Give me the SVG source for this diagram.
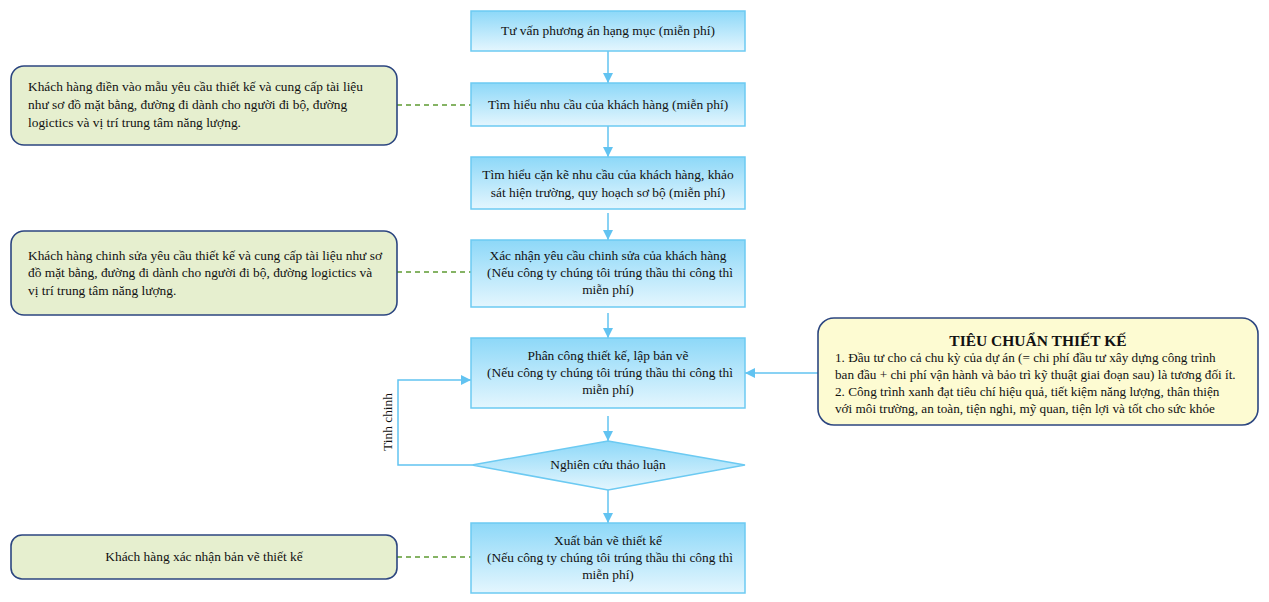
<svg xmlns="http://www.w3.org/2000/svg" width="1269" height="602" viewBox="0 0 1269 602">
<defs>
<linearGradient id="blue" x1="0" y1="0" x2="0" y2="1">
<stop offset="0" stop-color="#8dd8f8"/>
<stop offset="1" stop-color="#e4f6fe"/>
</linearGradient>
<marker id="arr" viewBox="0 0 10 10" refX="10" refY="5" markerWidth="10" markerHeight="10" markerUnits="userSpaceOnUse" orient="auto">
<path d="M0,0 L10,5 L0,10 Z" fill="#62c3f1"/>
</marker>
<style>
.box{fill:url(#blue);stroke:#6ccaf2;stroke-width:1.5}
.note{fill:#e6efcf;stroke:#2c4680;stroke-width:1.6}
.crit{fill:#fdfbd2;stroke:#2c4680;stroke-width:1.6}
.t{font-family:"Liberation Serif","Times New Roman","DejaVu Serif",serif;font-size:13.4px;fill:#111}
.s{font-size:13.2px}
.c{text-anchor:middle}
.h{font-family:"Liberation Serif","Times New Roman","DejaVu Serif",serif;font-size:15.5px;font-weight:bold;fill:#111;text-anchor:middle}
.flow{fill:none;stroke:#62c3f1;stroke-width:1.5;marker-end:url(#arr)}
.dash{fill:none;stroke:#5e9a32;stroke-width:1.5;stroke-dasharray:5 4}
</style>
</defs>
<rect width="1269" height="602" fill="#ffffff"/>

<g id="connectors">
<line class="flow" x1="608" y1="51" x2="608" y2="83"/>
<line class="flow" x1="608" y1="126" x2="608" y2="157"/>
<line class="flow" x1="608" y1="213" x2="608" y2="240"/>
<line class="flow" x1="608" y1="313" x2="608" y2="338"/>
<line class="flow" x1="608" y1="416" x2="608" y2="441"/>
<line class="flow" x1="608" y1="490" x2="608" y2="523"/>
<polyline class="flow" points="472,465 398,465 398,380 471,380"/>
<line class="flow" x1="818" y1="373" x2="745" y2="373"/>
<line class="dash" x1="397" y1="105" x2="471" y2="105"/>
<line class="dash" x1="397" y1="272" x2="471" y2="272"/>
<line class="dash" x1="397" y1="557" x2="471" y2="557"/>
<text class="t c" transform="translate(392,422) rotate(-90)">Tinh chinh</text>
</g>

<g id="n1">
<rect class="box" x="471" y="11" width="274" height="40"/>
<text class="t c" x="608" y="35">Tư vấn phương án hạng mục (miễn phí)</text>
</g>

<g id="n2">
<rect class="box" x="471" y="83" width="274" height="43"/>
<text class="t c" x="608" y="109">Tìm hiểu nhu cầu của khách hàng (miễn phí)</text>
</g>

<g id="n3">
<rect class="box" x="471" y="157" width="274" height="52"/>
<text class="t c" x="608" y="179">Tìm hiểu cặn kẽ nhu cầu của khách hàng, khảo</text>
<text class="t c" x="608" y="197">sát hiện trường, quy hoạch sơ bộ (miễn phí)</text>
</g>

<g id="n4">
<rect class="box" x="471" y="240" width="274" height="67"/>
<text class="t c" x="608" y="260">Xác nhận yêu cầu chinh sửa của khách hàng</text>
<text class="t c" x="610" y="277">(Nếu công ty chúng tôi trúng thầu thi công thì</text>
<text class="t c" x="608" y="294">miễn phí)</text>
</g>

<g id="n5">
<rect class="box" x="471" y="338" width="274" height="70"/>
<text class="t c" x="608" y="360">Phân công thiết kế, lập bản vẽ</text>
<text class="t c" x="610" y="377">(Nếu công ty chúng tôi trúng thầu thi công thì</text>
<text class="t c" x="608" y="394">miễn phí)</text>
</g>

<g id="n6">
<polygon class="box" points="608,441 745,465 608,490 472,465"/>
<text class="t c" x="608" y="469">Nghiên cứu thảo luận</text>
</g>

<g id="n7">
<rect class="box" x="471" y="523" width="274" height="70"/>
<text class="t c" x="608" y="545">Xuất bản vẽ thiết kế</text>
<text class="t c" x="610" y="562">(Nếu công ty chúng tôi trúng thầu thi công thì</text>
<text class="t c" x="608" y="579">miễn phí)</text>
</g>

<g id="noteA">
<rect class="note" x="11" y="66" width="386" height="79" rx="13"/>
<text class="t" x="28" y="91">Khách hàng điền vào mẫu yêu cầu thiết kế và cung cấp tài liệu</text>
<text class="t" x="28" y="109">như sơ đồ mặt bằng, đường đi dành cho người đi bộ, đường</text>
<text class="t" x="28" y="127">logictics và vị trí trung tâm năng lượng.</text>
</g>

<g id="noteB">
<rect class="note" x="11" y="231" width="386" height="84" rx="13"/>
<text class="t" x="28" y="260">Khách hàng chinh sửa yêu cầu thiết kế và cung cấp tài liệu như sơ</text>
<text class="t" x="28" y="277">đồ mặt bằng, đường đi dành cho người đi bộ, đường logictics và</text>
<text class="t" x="28" y="295">vị trí trung tâm năng lượng.</text>
</g>

<g id="noteC">
<rect class="note" x="11" y="535" width="386" height="44" rx="11"/>
<text class="t c" x="204" y="561">Khách hàng xác nhận bản vẽ thiết kế</text>
</g>

<g id="criteria">
<rect class="crit" x="818" y="318" width="440" height="107" rx="16"/>
<text class="h" x="1038" y="346">TIÊU CHUẨN THIẾT KẾ</text>
<text class="t s" x="835" y="362">1. Đầu tư cho cả chu kỳ của dự án (= chi phí đầu tư xây dựng công trình</text>
<text class="t s" x="835" y="379">ban đầu + chi phí vận hành và bảo trì kỹ thuật giai đoạn sau) là tương đối ít.</text>
<text class="t s" x="835" y="396">2. Công trình xanh đạt tiêu chí hiệu quả, tiết kiệm năng lượng, thân thiện</text>
<text class="t s" x="835" y="413">với môi trường, an toàn, tiện nghi, mỹ quan, tiện lợi và tốt cho sức khỏe</text>
</g>
</svg>
